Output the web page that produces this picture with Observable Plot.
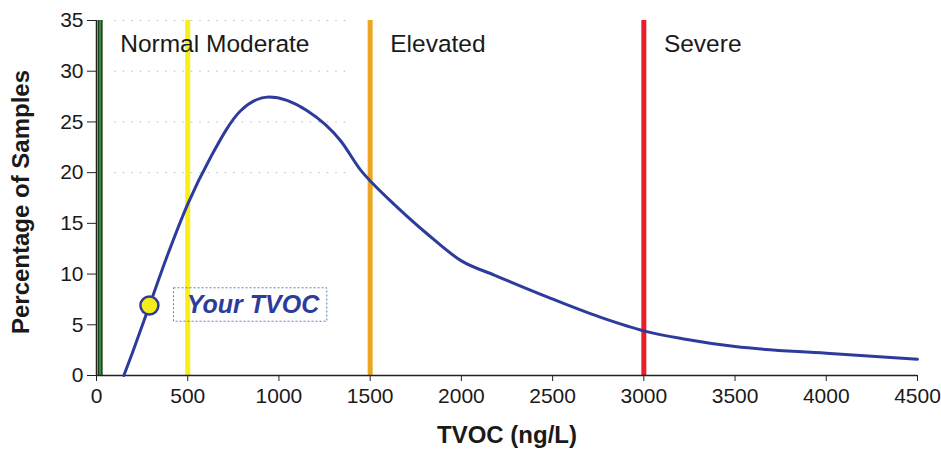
<!DOCTYPE html>
<html>
<head>
<meta charset="utf-8">
<script src="https://cdn.jsdelivr.net/npm/d3@7"></script>
<script src="https://cdn.jsdelivr.net/npm/@observablehq/plot@0.6"></script>
<style>
  html, body { margin: 0; padding: 0; background: #fff; }
  #chart svg { font-family: "Liberation Sans", Arial, sans-serif; }
</style>
</head>
<body>
<div id="chart"></div>
<script>
// ---- data ----
const tvoc = [150, 200, 290, 390, 500, 625, 790, 945, 1155, 1340, 1450, 1510, 1630, 1810, 2000, 2180, 2490, 2760, 3010, 3220, 3500, 4000, 4500];
const pct  = [0, 2.4, 6.9, 11.9, 16.9, 21.5, 26.1, 27.45, 26.1, 23.1, 20.2, 19.0, 16.9, 14.0, 11.3, 9.9, 7.6, 5.75, 4.35, 3.6, 2.85, 2.2, 1.6];

const thresholdValues = [20, 500, 1500, 3000];
const labelX = [130, 1610, 3110];
const labelNames = ["Normal Moderate", "Elevated", "Severe"];
const labelY = 32.7;

const yourTvoc = 290;
const yourPct = 6.9;
const yourLabel = "Your TVOC";
const yourBox = {x1: 425, x2: 1265, y1: 5.3, y2: 8.6};

const xTicks = [0, 500, 1000, 1500, 2000, 2500, 3000, 3500, 4000, 4500];
const yTicks = [0, 5, 10, 15, 20, 25, 30, 35];
const gridY = [20, 25, 30, 35];
const xTitle = "TVOC (ng/L)";
const yTitle = "Percentage of Samples";

// ---- build ----
const curve = tvoc.map((x, i) => ({x, y: pct[i]}));
const labels = labelX.map((x, i) => ({x, name: labelNames[i]}));

const chart = Plot.plot({
  width: 941,
  height: 452,
  marginLeft: 96,
  marginRight: 24,
  marginTop: 20,
  marginBottom: 77,
  x: {domain: [0, 4500]},
  y: {domain: [0, 35]},
  style: {fontFamily: "Liberation Sans, Arial, sans-serif", fontSize: "21px", background: "#fff"},
  marks: [
    Plot.ruleY(gridY, {x1: 100, x2: 1400, stroke: "#aaa", strokeWidth: 1, strokeDasharray: "1.5,7", strokeOpacity: 0.8}),
    // threshold lines
    Plot.ruleX([thresholdValues[0]], {y1: 0, y2: 35, stroke: "#1c3d1c", strokeWidth: 5}),
    Plot.ruleX([thresholdValues[0]], {y1: 0, y2: 35, stroke: "#3f8a3f", strokeWidth: 2}),
    Plot.ruleX([thresholdValues[1]], {y1: 0, y2: 35, stroke: "#f7ee1a", strokeWidth: 5}),
    Plot.ruleX([thresholdValues[2]], {y1: 0, y2: 35, stroke: "#eba723", strokeWidth: 5}),
    Plot.ruleX([thresholdValues[3]], {y1: 0, y2: 35, stroke: "#ea1d2c", strokeWidth: 5}),
    // axes
    Plot.axisX({ticks: xTicks, tickFormat: d => String(d), tickSize: 6, tickPadding: 7, fill: "#1a1a1a", stroke: "#222", label: null}),
    Plot.axisY({ticks: yTicks, tickSize: 9, tickPadding: 4, fill: "#1a1a1a", stroke: "#222", label: null}),
    Plot.ruleY([0], {stroke: "#222", strokeWidth: 1.5}),
    Plot.ruleX([0], {stroke: "#222", strokeWidth: 1.5}),
    // axis titles
    Plot.text([xTitle], {frameAnchor: "bottom", dy: 60, fontSize: 24, fontWeight: "bold", fill: "#1a1a1a", textAnchor: "middle", lineAnchor: "middle"}),
    Plot.text([yTitle], {frameAnchor: "left", dx: -75, dy: 4, rotate: -90, fontSize: 24, fontWeight: "bold", fill: "#1a1a1a", textAnchor: "middle", lineAnchor: "middle"}),
    // region labels
    Plot.text(labels, {x: "x", y: labelY, text: "name", textAnchor: "start", lineAnchor: "middle", fontSize: 24.5, fill: "#1a1a1a"}),
    // distribution curve
    Plot.line(curve, {x: "x", y: "y", curve: "monotone-x", stroke: "#2d3c9c", strokeWidth: 3}),
    // your TVOC marker
    Plot.rect([yourBox], {x1: "x1", x2: "x2", y1: "y1", y2: "y2", fill: "none", stroke: "#5a7fc0", strokeWidth: 1, strokeDasharray: "2,2"}),
    Plot.text([yourLabel], {x: yourBox.x1 + 70, y: (yourBox.y1 + yourBox.y2) / 2, textAnchor: "start", lineAnchor: "middle", fontSize: 25, fontWeight: "bold", fontStyle: "italic", fill: "#2d3c9c"}),
    Plot.dot([{x: yourTvoc, y: yourPct}], {x: "x", y: "y", r: 9, fill: "#f5ec1c", stroke: "#2d3c9c", strokeWidth: 2.5})
  ]
});
document.getElementById("chart").appendChild(chart);
</script>
</body>
</html>
